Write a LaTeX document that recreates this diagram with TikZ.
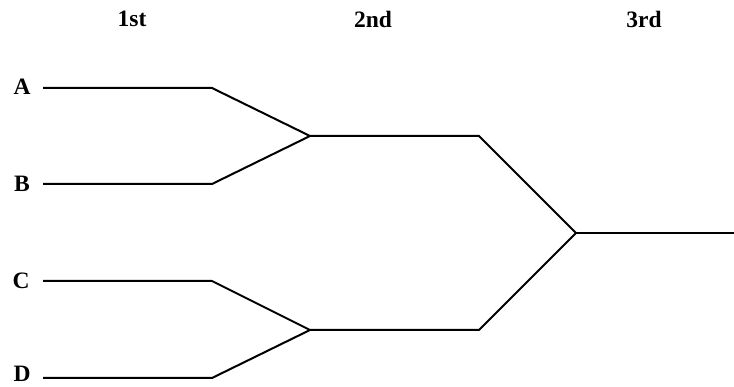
\documentclass[tikz,border=0pt]{standalone}
\usepackage{fontspec}
\setmainfont{Liberation Serif}
\begin{document}
\begin{tikzpicture}[x=1pt,y=-1pt,
  lbl/.style={font=\fontsize{23.5}{26}\selectfont\bfseries, inner sep=0pt, anchor=center},
  bracket/.style={line width=2pt, line join=miter}]
\useasboundingbox (0,0) rectangle (734,387);
% headers
\node[lbl] (h1) at (132,19) {1st};
\node[lbl] (h2) at (373,19) {2nd};
\node[lbl] (h3) at (644,19) {3rd};
% team labels
\node[lbl] (A) at (22,87) {A};
\node[lbl] (B) at (22,184) {B};
\node[lbl] (C) at (21,281) {C};
\node[lbl] (D) at (22,374) {D};
% coordinates
\coordinate (a0) at (43,88);  \coordinate (a1) at (212,88);
\coordinate (b0) at (43,184); \coordinate (b1) at (212,184);
\coordinate (c0) at (43,281); \coordinate (c1) at (212,281);
\coordinate (d0) at (43,378); \coordinate (d1) at (212,378);
\coordinate (ab) at (310,136); \coordinate (ab1) at (479,136);
\coordinate (cd) at (310,330); \coordinate (cd1) at (479,330);
\coordinate (w) at (576,233); \coordinate (w1) at (734,233);
% brackets
\draw[bracket] (a0) -- (a1) -- (ab) -- (b1) -- (b0);
\draw[bracket] (c0) -- (c1) -- (cd) -- (d1) -- (d0);
\draw[bracket] (ab) -- (ab1) -- (w) -- (cd1) -- (cd);
\draw[bracket] (w) -- (w1);
\end{tikzpicture}
\end{document}
